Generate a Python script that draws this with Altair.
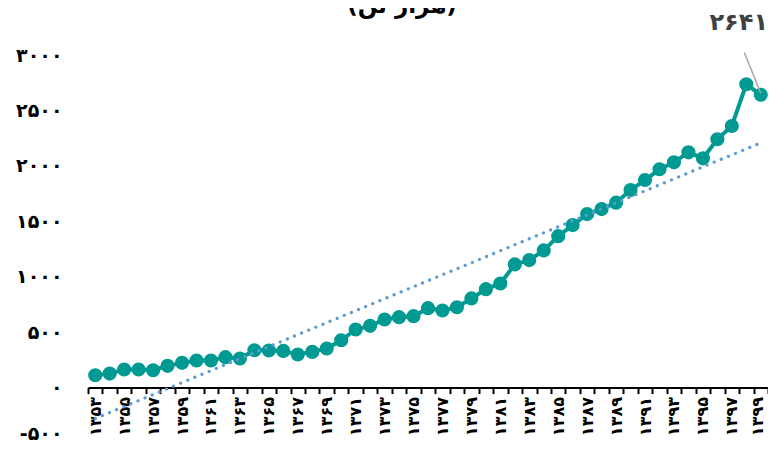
import altair as alt
import pandas as pd

FA = str.maketrans("0123456789", "۰۱۲۳۴۵۶۷۸۹")

years = list(range(1353, 1400))
values = [111, 126, 163, 163, 156, 196, 223, 244, 244, 274,
          262, 337, 334, 331, 298, 322, 352, 427, 524, 557,
          614, 635, 644, 716, 695, 725, 804, 888, 939, 1111,
          1150, 1237, 1366, 1466, 1565, 1610, 1668, 1782, 1872, 1969,
          2032, 2122, 2068, 2240, 2360, 2736, 2641]
y_ticks = [-500, 0, 500, 1000, 1500, 2000, 2500, 3000]
title_text = "(هزار تن)"
last_label = "2641".translate(FA)

df = pd.DataFrame({"year": years, "value": values})

FONT = "DejaVu Sans"
TEAL = "#009A93"
BLUE = "#5B9BD5"

x_labels = [str(y).translate(FA) if (y - 1353) % 2 == 0 else "" for y in years]
x_arr = "[" + ",".join("'" + s + "'" for s in x_labels) + "]"
x_label_expr = f"{x_arr}[datum.value - 1353]"

y_labels = [str(v).translate(FA) for v in y_ticks]
y_arr = "[" + ",".join("'" + s + "'" for s in y_labels) + "]"
y_label_expr = f"{y_arr}[(datum.value + 500) / 500]"

H = 388
W = 680

xscale = alt.Scale(type="band", domain=years, paddingInner=0, paddingOuter=0)

x_enc = alt.X(
    "year:O",
    scale=xscale,
    axis=alt.Axis(
        labelExpr=x_label_expr,
        labelAngle=-90,
        labelOverlap=False,
        labelFlush=False,
        labelBound=False,
        labelFont=FONT,
        labelFontSize=16,
        labelFontWeight="bold",
        labelColor="#000000",
        labelPadding=3,
        labelOffset={"condition": {"test": "datum.value == 1399", "value": -3}, "value": 0},
        tickBand="extent",
        tickSize=6,
        tickWidth=2,
        tickColor="#000000",
        domainColor="#000000",
        domainWidth=2,
        grid=False,
        title=None,
        offset=-H * 500 / 3500,
    ),
)
y_enc = alt.Y(
    "value:Q",
    scale=alt.Scale(domain=[-500, 3000], nice=False, zero=False),
    axis=alt.Axis(
        values=y_ticks,
        labelExpr=y_label_expr,
        labelFont=FONT,
        labelFontSize=19,
        labelFontWeight="bold",
        labelColor="#000000",
        labelPadding=26,
        labelOffset={"condition": {"test": "datum.value == -500", "value": -10}, "value": 0},
        labelFlush=False,
        labelBound=False,
        ticks=False,
        domain=False,
        grid=False,
        title=None,
    ),
)

base = alt.Chart(df).encode(x=x_enc, y=y_enc)

line = base.mark_line(color=TEAL, strokeWidth=4, clip=False)
points = base.mark_circle(color=TEAL, size=200, opacity=1, clip=False)
trend = base.transform_regression("year", "value").mark_line(
    color=BLUE, strokeWidth=3.2, strokeDash=[0.1, 7.6], strokeCap="round", clip=False
)

lead_df = pd.DataFrame({"year": [1399], "value": [2655], "year2": [1398], "value2": [3022]})
leader = alt.Chart(lead_df).mark_rule(color="#A6A6A6", strokeWidth=1.5, clip=False, x2Offset=-2).encode(
    x=alt.X("year:O", scale=xscale),
    y="value:Q", x2="year2:O", y2="value2:Q"
)

ann_df = pd.DataFrame({"year": [years[-1]], "value": [values[-1]], "label": [last_label]})
ann = alt.Chart(ann_df).mark_text(
    font=FONT, fontSize=24, fontWeight="bold", color="#404040",
    dx=-22, dy=-72, align="center", baseline="middle", clip=False
).encode(x=alt.X("year:O", scale=xscale), y="value:Q", text="label:N")

title_df = pd.DataFrame({"t": [title_text]})
title = alt.Chart(title_df).mark_text(
    font=FONT, fontSize=23, fontWeight="bold", color="#000000",
    align="center", baseline="alphabetic", clip=False
).encode(x=alt.value(314), y=alt.value(-42), text="t:N")

chart = alt.layer(line, points, trend, leader, ann, title).properties(
    width=W, height=H,
    autosize=alt.AutoSizeParams(type="none"),
    padding={"left": 80, "top": 47, "right": 0, "bottom": 0},
).configure_view(stroke=None)

chart.save("out.html", embed_options={"renderer": "svg", "actions": False})
